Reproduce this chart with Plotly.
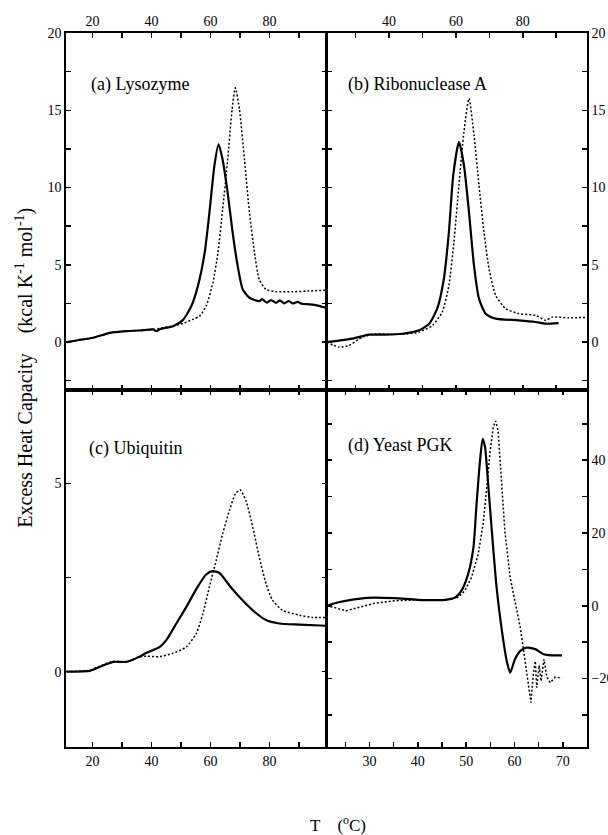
import plotly.graph_objects as go

# ---------------- data ----------------
# (a) Lysozyme
lyso_solid_T = [11.2, 15, 20.2, 25.9, 31.5, 36, 40.5, 41.6, 43, 47.3, 50.6, 53.5, 55.7, 58, 59.6, 61.3, 62.7,
                64.1, 65.8, 67.5, 69.2, 70.9, 73.2, 76.5, 77.5, 79, 80.5, 82.2, 83.5, 85, 86.5, 87.8, 89.5,
                91, 93.4, 96, 99]
lyso_solid_cp = [0.0, 0.12, 0.28, 0.6, 0.71, 0.75, 0.82, 0.71, 0.85, 1.03, 1.42, 2.33, 3.62, 5.78, 8.36, 11.4, 12.8,
                 11.8, 9.66, 7.07, 4.92, 3.41, 2.87, 2.65, 2.78, 2.55, 2.72, 2.54, 2.7, 2.5, 2.66, 2.5, 2.6,
                 2.48, 2.44, 2.38, 2.22]
lyso_dot_T = [11.2, 20.2, 25.9, 31.5, 40.5, 47.3, 50.6, 54, 56.3, 58.5, 60.8, 62.5, 64.1, 65.8, 67.3, 68.4,
              69.8, 71.5, 73.2, 74.9, 76.5, 78.8, 82.2, 87.8, 93, 99]
lyso_dot_cp = [0.0, 0.28, 0.6, 0.71, 0.82, 1.05, 1.2, 1.47, 1.68, 2.33, 3.84, 5.78, 8.58, 11.8, 15.05, 16.45,
               15.05, 11.8, 8.36, 5.78, 4.05, 3.41, 3.26, 3.26, 3.3, 3.36]

# (b) Ribonuclease A
rnase_solid_T = [21.3, 25.1, 29, 34, 39, 44, 49, 52, 54.4, 56.4, 57.9, 59.2, 60.9, 62.4, 63.9, 65.4, 66.9,
                 68.9, 71.9, 78.8, 83.8, 86.8, 90.7]
rnase_solid_cp = [0.0, 0.1, 0.22, 0.48, 0.48, 0.54, 0.76, 1.19, 2.16, 4.1, 7.12, 10.8, 12.95, 11.44, 8.42, 4.97,
                  2.81, 1.84, 1.52, 1.41, 1.3, 1.19, 1.23]
rnase_dot_T = [21.3, 25.1, 28, 32, 36, 40, 45, 49, 53, 55.9, 57.9, 59.4, 60.9, 62.4, 63.9, 65.4, 66.9, 68.4,
               69.9, 71.9, 74.9, 78.8, 83.8, 86.8, 88.8, 93.7, 99.2]
rnase_dot_cp = [0.0, -0.32, -0.22, 0.32, 0.54, 0.5, 0.52, 0.65, 1.08, 1.94, 3.67, 6.48, 10.15, 13.6, 15.76,
                13.4, 10.15, 7.12, 4.75, 3.02, 2.16, 1.84, 1.73, 1.41, 1.62, 1.57, 1.6]

# (c) Ubiquitin
ubq_solid_T = [11.2, 19.1, 22.5, 27, 31.5, 36, 38.3, 42.8, 45, 48.4, 51.8, 55.2, 58.5, 60.6, 63, 66.4, 69.8,
               74.3, 78.8, 83.3, 90.1, 99]
ubq_solid_cp = [0.0, 0.02, 0.13, 0.26, 0.26, 0.4, 0.5, 0.66, 0.84, 1.28, 1.72, 2.2, 2.58, 2.67, 2.62, 2.29,
                1.98, 1.63, 1.37, 1.28, 1.25, 1.22]
ubq_dot_T = [11.2, 19.1, 22.5, 27, 31.5, 36, 38.3, 42.8, 47.3, 51.8, 55.2, 57.4, 59.6, 61.9, 64.1, 66.4, 68.4,
             70, 72, 74.3, 76.5, 78.8, 81, 84.4, 90.1, 94.6, 99]
ubq_dot_cp = [0.0, 0.04, 0.15, 0.27, 0.27, 0.4, 0.41, 0.4, 0.49, 0.66, 1.02, 1.54, 2.25, 2.95, 3.66, 4.28, 4.72,
              4.83, 4.54, 3.84, 3.04, 2.34, 1.9, 1.63, 1.5, 1.44, 1.44]

# (d) Yeast PGK
pgk_solid_T = [21.1, 23.4, 26.2, 29.6, 35.2, 40, 45.6, 47.7, 49, 50.4, 51.5, 52.1, 52.8, 53.4, 53.9, 54.6,
               55.3, 56.3, 57.3, 58.4, 59.1, 60.1, 61.2, 62.5, 64.3, 66, 67.7, 69.8]
pgk_solid_cp = [0.0, 0.9, 1.65, 2.2, 2.1, 1.65, 1.65, 2.3, 4.1, 8.7, 16, 27, 39, 45.9, 43.6, 32.6,
                20.7, 5, -6, -15.2, -18.4, -14.7, -12.4, -11.5, -11.9, -13.3, -13.6, -13.6]
pgk_dot_T = [21.1, 22.8, 25.1, 27.6, 31, 35.2, 40, 45.6, 48.3, 49.7, 51.1, 52.5, 53.5, 54.2, 54.9, 55.6,
             56.1, 56.6, 57.3, 58, 59.1, 60.1, 61.2, 61.8, 62.7, 63.4, 63.9, 64.3, 64.6, 65.1, 65.5, 66.1,
             66.7, 67.4, 68.4, 69.8]
pgk_dot_cp = [0.0, -0.5, -1.4, -0.5, 0.7, 1.4, 1.6, 1.6, 2.3, 4.1, 7.8, 14.2, 22.5, 31.7, 41.8, 49.1,
              50.8, 48.2, 34.4, 20.7, 7.8, 1.4, -6, -11.5, -20.7, -26.6, -18.8, -15.2, -22.5, -16.4, -20.7,
              -14.7, -19.6, -21.1, -19.6, -19.8]

panel_labels = ["(a) Lysozyme", "(b) Ribonuclease A", "(c) Ubiquitin", "(d) Yeast PGK"]

FONT = "Liberation Serif"

fig = go.Figure()

def add_pair(xs, ys, xd, yd, xa, ya, shape_dot="spline"):
    fig.add_trace(go.Scatter(x=xs, y=ys, mode="lines", xaxis=xa, yaxis=ya, showlegend=False,
                             hoverinfo="skip",
                             line=dict(color="black", width=2.2, shape="spline", smoothing=0.6)))
    if shape_dot == "spline":
        ln = dict(color="black", width=1.5, dash="2px,2px", shape="spline", smoothing=0.6)
    else:
        ln = dict(color="black", width=1.5, dash="2px,2px")
    fig.add_trace(go.Scatter(x=xd, y=yd, mode="lines", xaxis=xa, yaxis=ya, showlegend=False,
                             hoverinfo="skip", line=ln))

add_pair(lyso_solid_T, lyso_solid_cp, lyso_dot_T, lyso_dot_cp, "x", "y")
add_pair(rnase_solid_T, rnase_solid_cp, rnase_dot_T, rnase_dot_cp, "x2", "y2")
add_pair(ubq_solid_T, ubq_solid_cp, ubq_dot_T, ubq_dot_cp, "x3", "y3")
add_pair(pgk_solid_T, pgk_solid_cp, pgk_dot_T, pgk_dot_cp, "x4", "y4", shape_dot="linear")


def ax(major, minor, rng, side, anchor, domain, tick0=0):
    return dict(domain=domain, anchor=anchor, side=side, range=rng, automargin=False,
                tickmode="linear", tick0=tick0, dtick=major,
                minor=dict(dtick=minor, tick0=tick0, ticks="inside", ticklen=5, tickwidth=1.5,
                           tickcolor="black", showgrid=False),
                showline=True, linecolor="black", linewidth=1.8, mirror="ticks", ticks="inside",
                ticklen=5, tickwidth=1.5, tickcolor="black", showgrid=False, zeroline=False,
                tickfont=dict(family=FONT, size=14, color="black"))


fig.update_layout(
    template="none",
    width=608, height=835,
    margin=dict(l=66, r=21, t=33, b=88, autoexpand=False),
    paper_bgcolor="white", plot_bgcolor="white",
    font=dict(family=FONT, color="black"),
    hovermode=False,
    xaxis=ax(20, 10, [11, 99.3], "top", "y", [0, 0.5]),
    yaxis=ax(5, 2.5, [-3.1, 20], "left", "x", [0.5, 1]),
    xaxis2=ax(20, 10, [21.3, 99.2], "top", "y2", [0.5, 1]),
    yaxis2=ax(5, 2.5, [-3.1, 20], "right", "x2", [0.5, 1]),
    xaxis3=ax(20, 10, [11, 99.3], "bottom", "y3", [0, 0.5]),
    yaxis3=ax(5, 2.5, [-2, 7.48], "left", "x3", [0, 0.5]),
    xaxis4=ax(10, 5, [21.1, 75], "bottom", "y4", [0.5, 1]),
    yaxis4=ax(20, 10, [-38.8, 59.3], "right", "x4", [0, 0.5]),
)

label_pos = [("x domain", "y domain", 0.088, 0.855),
             ("x2 domain", "y2 domain", 0.074, 0.855),
             ("x3 domain", "y3 domain", 0.079, 0.835),
             ("x4 domain", "y4 domain", 0.074, 0.845)]
for txt, (xr, yr, xx, yy) in zip(panel_labels, label_pos):
    fig.add_annotation(text=txt, xref=xr, yref=yr, x=xx, y=yy, xanchor="left", yanchor="middle",
                       showarrow=False, font=dict(family=FONT, size=18, color="black"))

nb = "\u00a0"
fig.add_annotation(text="Excess Heat Capacity" + nb * 4 + "(kcal K<sup>-1</sup> mol<sup>-1</sup>)",
                   xref="paper", yref="paper", x=-0.079, y=0.531, textangle=-90,
                   xanchor="center", yanchor="middle", showarrow=False,
                   font=dict(family=FONT, size=20, color="black"))
fig.add_annotation(text="T" + nb * 4 + "(<sup>o</sup>C)", xref="paper", yref="paper",
                   x=0.522, y=-0.108, xanchor="center", yanchor="middle", showarrow=False,
                   font=dict(family=FONT, size=17, color="black"))

# remove the browser's default 8px body margin so the 608x835 figure fills the window exactly
fig.write_html("out.html",
               config={"displayModeBar": False, "staticPlot": True},
               post_script="document.body.style.margin='0';"
                           "document.documentElement.style.overflow='hidden';")
